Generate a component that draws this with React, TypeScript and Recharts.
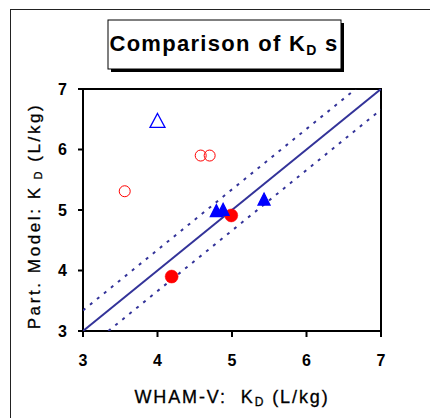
import { ScatterChart, Scatter, XAxis, YAxis, ReferenceArea } from 'recharts';

const axisTicks = [3, 4, 5, 6, 7];

// Partition model vs WHAM-V log K_D values
const openCircles = [
  { x: 3.56, y: 5.31 },
  { x: 4.58, y: 5.9 },
  { x: 4.7, y: 5.9 },
];
const openTriangles = [{ x: 4.0, y: 6.48 }];
const filledCircles = [
  { x: 4.19, y: 3.9 },
  { x: 4.99, y: 4.91 },
];
const filledTriangles = [
  { x: 4.79, y: 4.99 },
  { x: 4.88, y: 5.01 },
  { x: 5.43, y: 5.18 },
];

const oneToOne = [
  { x: 3, y: 3 },
  { x: 7, y: 7 },
];
const upperBound = [
  { x: 3, y: 3.34 },
  { x: 6.66, y: 7 },
];
const lowerBound = [
  { x: 3.34, y: 3 },
  { x: 7, y: 6.66 },
];

const FONT = '"Liberation Sans", Arial, sans-serif';
const NAVY = '#333399';

const tickStyle = { fontFamily: FONT, fontWeight: 'bold' as const, fontSize: 16, fill: '#000' };

function Tri({ cx, cy, w, h, fill, stroke }: any) {
  const pts = `${cx},${cy - h / 2} ${cx + w / 2},${cy + h / 2} ${cx - w / 2},${cy + h / 2}`;
  return <polygon points={pts} fill={fill} stroke={stroke} strokeWidth={1.3} />;
}

const noShape = () => <g />;

export default function App() {
  return (
    <div style={{ position: 'absolute', left: 0, top: 0, width: 430, height: 418, background: '#fff', overflow: 'hidden', fontFamily: FONT }}>
      <div style={{ position: 'absolute', left: 10, top: 9, width: 500, height: 500, borderTop: '1px solid #222', borderLeft: '1px solid #222' }} />
      <div style={{ position: 'absolute', left: 0, top: 0 }}>
        <ScatterChart width={430} height={418} margin={{ top: 89, right: 49, left: 0, bottom: 0 }}>
          <XAxis
            type="number"
            dataKey="x"
            domain={[3, 7]}
            ticks={axisTicks}
            height={87}
            tick={tickStyle}
            tickSize={6}
            tickMargin={18}
            stroke="#000"
            strokeWidth={2}
            allowDataOverflow
          />
          <YAxis
            type="number"
            dataKey="y"
            domain={[3, 7]}
            ticks={axisTicks}
            width={83}
            tick={tickStyle}
            tickSize={5}
            tickMargin={11}
            stroke="#000"
            strokeWidth={2}
            allowDataOverflow
          />
          <Scatter data={upperBound} line={{ stroke: NAVY, strokeWidth: 2, strokeDasharray: '3 6' }} shape={noShape} isAnimationActive={false} />
          <Scatter data={lowerBound} line={{ stroke: NAVY, strokeWidth: 2, strokeDasharray: '3 6' }} shape={noShape} isAnimationActive={false} />
          <Scatter data={oneToOne} line={{ stroke: NAVY, strokeWidth: 2 }} shape={noShape} isAnimationActive={false} />
          <ReferenceArea x1={3} x2={7} y1={3} y2={7} fill="none" fillOpacity={0} stroke="#000" strokeWidth={2} ifOverflow="visible" />
          <Scatter
            data={openCircles}
            isAnimationActive={false}
            shape={(p: any) => <circle cx={p.cx} cy={p.cy} r={5.5} fill="none" stroke="#ff0000" strokeWidth={1} />}
          />
          <Scatter
            data={openTriangles}
            isAnimationActive={false}
            shape={(p: any) => <Tri cx={p.cx} cy={p.cy} w={15} h={14} fill="#fff" stroke="#0000ff" />}
          />
          <Scatter
            data={filledCircles}
            isAnimationActive={false}
            shape={(p: any) => <circle cx={p.cx} cy={p.cy} r={6.5} fill="#ff0000" stroke="#ff0000" strokeWidth={0.5} />}
          />
          <Scatter
            data={filledTriangles}
            isAnimationActive={false}
            shape={(p: any) => <Tri cx={p.cx} cy={p.cy} w={12} h={12} fill="#0000ff" stroke="#0000ff" />}
          />
        </ScatterChart>
      </div>
      <svg width={430} height={418} style={{ position: 'absolute', left: 0, top: 0, pointerEvents: 'none' }}>
        <rect x={111} y={23} width={233} height={49} fill="#000" />
        <rect x={108} y={20} width={233} height={49} fill="#fff" stroke="#000" strokeWidth={1} />
        <text x={224} y={51} textAnchor="middle" fontFamily={FONT} fontWeight="bold" fontSize={22} letterSpacing={1.3} fill="#000">
          Comparison of K
          <tspan fontSize={14} dy={4}>D</tspan>
          <tspan dy={-4}>{'\u00a0'}s</tspan>
        </text>
        <text
          x={39.5}
          y={216}
          transform="rotate(-90 39.5 216)"
          textAnchor="middle"
          fontFamily={FONT}
          fontSize={17}
          letterSpacing={2.6}
          fill="#000"
          stroke="#000"
          strokeWidth={0.3}
        >
          Part. Model: K
          <tspan fontSize={11} dy={2}>{'\u00a0'}D</tspan>
          <tspan dy={-2}> (L/kg)</tspan>
        </text>
        <text
          x={232}
          y={403}
          textAnchor="middle"
          fontFamily={FONT}
          fontSize={18}
          letterSpacing={1.9}
          fill="#000"
          stroke="#000"
          strokeWidth={0.3}
        >
          {'WHAM-V:\u00a0\u00a0K'}
          <tspan fontSize={12} dy={3}>D</tspan>
          <tspan dy={-3}> (L/kg)</tspan>
        </text>
      </svg>
    </div>
  );
}
